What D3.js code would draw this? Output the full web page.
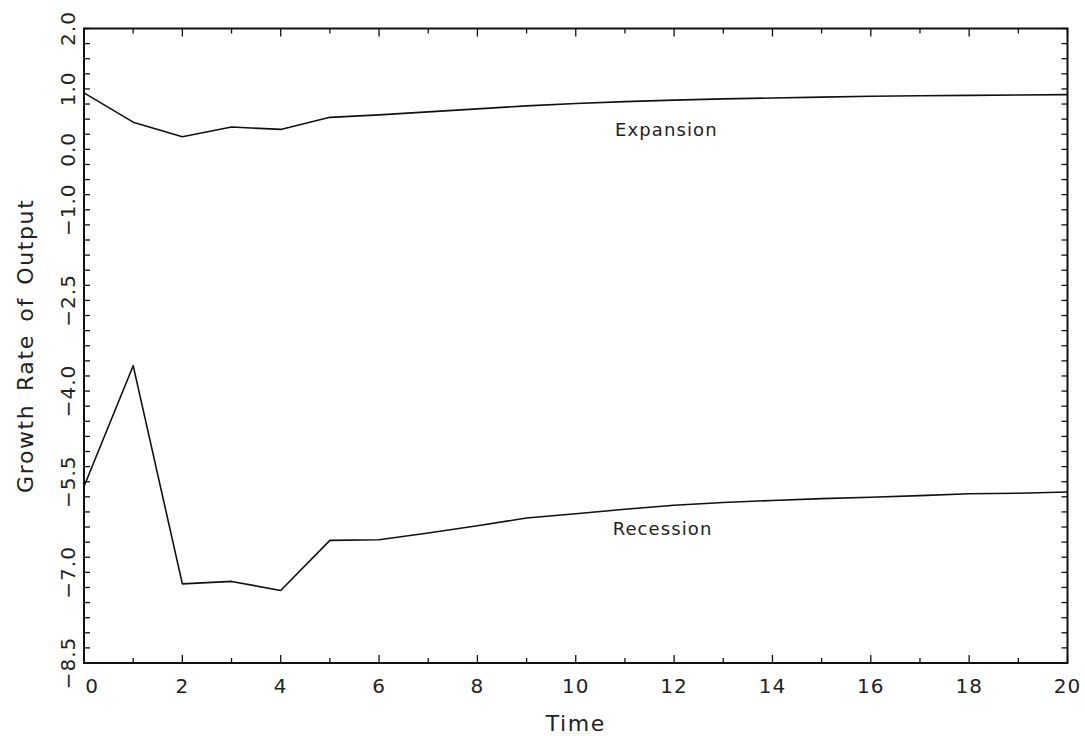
<!DOCTYPE html>
<html>
<head>
<meta charset="utf-8">
<script src="https://cdn.jsdelivr.net/npm/d3@7"></script>
<style>
  html, body { margin: 0; padding: 0; background: #fff; }
  svg { display: block; }
  text { font-family: "DejaVu Sans", sans-serif; font-weight: normal; fill: #222; }
</style>
</head>
<body>
<svg id="chart" width="1085" height="736"></svg>
<script>
// ---- data ----
const time = [0,1,2,3,4,5,6,7,8,9,10,11,12,13,14,15,16,17,18,19,20];
const expansion = [0.935,0.45,0.21,0.37,0.33,0.53,0.57,0.62,0.67,0.72,0.76,0.79,0.815,0.835,0.85,0.865,0.88,0.888,0.894,0.90,0.905];
const recession = [-5.58,-3.58,-7.19,-7.15,-7.30,-6.47,-6.46,-6.35,-6.23,-6.10,-6.03,-5.955,-5.89,-5.845,-5.81,-5.78,-5.757,-5.73,-5.70,-5.69,-5.67];
const xTickValues = [0,2,4,6,8,10,12,14,16,18,20];
const xTickLabels = ["0","2","4","6","8","10","12","14","16","18","20"];
const yTickValues = [2.0,1.0,0.0,-1.0,-2.5,-4.0,-5.5,-7.0,-8.5];
const yTickLabels = ["2.0","1.0","0.0","\u22121.0","\u22122.5","\u22124.0","\u22125.5","\u22127.0","\u22128.5"];
const seriesLabels = [
  {text: "Expansion", x: 10.8, y: 0.228},
  {text: "Recession", x: 10.75, y: -6.38}
];

// ---- layout ----
const svg = d3.select("#chart");
const L = 84, R = 1067.5, T = 28.5, B = 663;
const x = d3.scaleLinear().domain([0, 20]).range([L, R]);
const y = d3.scaleLinear().domain([-8.5, 2.0]).range([B, T]);

// minor ticks
const xMinor = d3.range(0, 21, 1);
const yMinor = d3.range(-8.5, 2.0001, 0.25);

const g = svg.append("g");

// ticks - bottom & top
g.selectAll("line.xb").data(xMinor).enter().append("line")
  .attr("x1", d => x(d)).attr("x2", d => x(d))
  .attr("y1", B).attr("y2", d => B - (d % 2 === 0 ? 8 : 5))
  .attr("stroke", "#111").attr("stroke-width", 1.3);
g.selectAll("line.xt").data(xMinor).enter().append("line")
  .attr("x1", d => x(d)).attr("x2", d => x(d))
  .attr("y1", T).attr("y2", d => T + (d % 2 === 0 ? 8 : 5))
  .attr("stroke", "#111").attr("stroke-width", 1.3);
// ticks - left & right
g.selectAll("line.yl").data(yMinor).enter().append("line")
  .attr("x1", L).attr("x2", L + 6)
  .attr("y1", d => y(d)).attr("y2", d => y(d))
  .attr("stroke", "#111").attr("stroke-width", 1.3);
g.selectAll("line.yr").data(yMinor).enter().append("line")
  .attr("x1", R).attr("x2", R - 6)
  .attr("y1", d => y(d)).attr("y2", d => y(d))
  .attr("stroke", "#111").attr("stroke-width", 1.3);

// frame
g.append("rect").attr("x", L).attr("y", T).attr("width", R - L).attr("height", B - T)
  .attr("fill", "none").attr("stroke", "#111").attr("stroke-width", 2);

// tick labels
g.selectAll("text.xl").data(xTickValues).enter().append("text")
  .attr("x", (d) => x(d) + (d === 0 ? 8 : 0))
  .attr("y", 693)
  .attr("text-anchor", "middle")
  .attr("font-size", 20)
  .attr("letter-spacing", 1)
  .text((d, i) => xTickLabels[i]);

g.selectAll("text.yl").data(yTickValues).enter().append("text")
  .attr("transform", d => `translate(75,${y(d)}) rotate(-90)`)
  .attr("text-anchor", "middle")
  .attr("font-size", 20)
  .attr("letter-spacing", 1)
  .text((d, i) => yTickLabels[i]);

// axis titles
g.append("text").attr("x", (L + R) / 2).attr("y", 731)
  .attr("text-anchor", "middle").attr("font-size", 22)
  .attr("letter-spacing", 1.5).text("Time");
g.append("text").attr("transform", `translate(33,${(T + B) / 2}) rotate(-90)`)
  .attr("text-anchor", "middle").attr("font-size", 22)
  .attr("letter-spacing", 1.6).attr("word-spacing", 4).text("Growth Rate of Output");

// lines
const line = d3.line().x((d, i) => x(time[i])).y(d => y(d));
[expansion, recession].forEach(s => {
  g.append("path").datum(s).attr("d", line)
    .attr("fill", "none").attr("stroke", "#111").attr("stroke-width", 1.6)
    .attr("stroke-linejoin", "round");
});

// series labels
g.selectAll("text.sl").data(seriesLabels).enter().append("text")
  .attr("x", d => x(d.x)).attr("y", d => y(d.y))
  .attr("font-size", 18)
  .attr("letter-spacing", 1.1)
  .text(d => d.text);
</script>
</body>
</html>
